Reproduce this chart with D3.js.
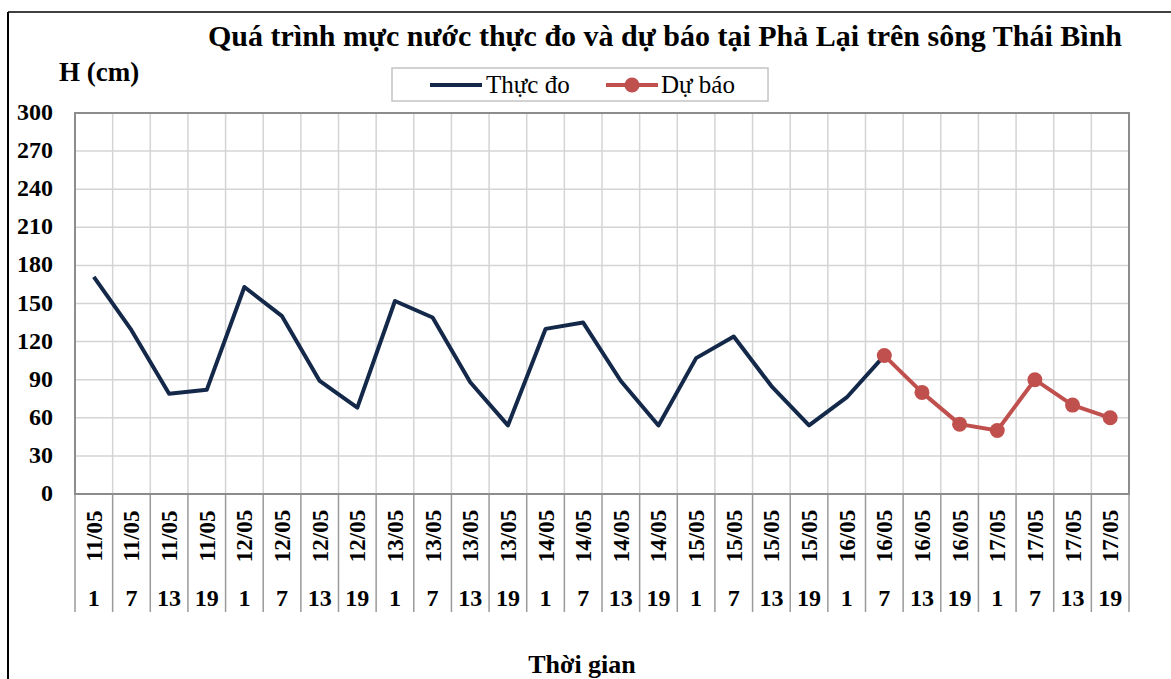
<!DOCTYPE html>
<html>
<head>
<meta charset="utf-8">
<script src="https://cdn.jsdelivr.net/npm/d3@7"></script>
<style>
  body { margin: 0; background: #fff; }
  svg { display: block; font-family: "Liberation Serif", "Times New Roman", serif; }
</style>
</head>
<body>
<svg id="chart" width="1171" height="679"></svg>
<script>
// categories: date + hour
const dates = ["11/05","11/05","11/05","11/05","12/05","12/05","12/05","12/05",
               "13/05","13/05","13/05","13/05","14/05","14/05","14/05","14/05",
               "15/05","15/05","15/05","15/05","16/05","16/05","16/05","16/05",
               "17/05","17/05","17/05","17/05"];
const hours = [1,7,13,19,1,7,13,19,1,7,13,19,1,7,13,19,1,7,13,19,1,7,13,19,1,7,13,19];

// measured (Thực đo) and forecast (Dự báo), null where missing
const observed = [171,129,79,82,163,140,89,68,152,139,88,54,130,135,89,54,107,124,85,54,76,109,
                  null,null,null,null,null,null];
const forecast = [null,null,null,null,null,null,null,null,null,null,null,null,null,null,null,
                  null,null,null,null,null,null,109,80,55,50,90,70,60];

const yTicks = [0,30,60,90,120,150,180,210,240,270,300];

const plot = { left: 75, right: 1129, top: 113, bottom: 494 };
const navy = "#14294a", red = "#c0504d";

const svg = d3.select("#chart");

// outer frame (left and top edges only visible)
svg.append("line").attr("x1", 8).attr("x2", 8).attr("y1", 12).attr("y2", 679)
    .attr("stroke", "#000").attr("stroke-width", 2);
svg.append("line").attr("x1", 8).attr("x2", 1171).attr("y1", 12).attr("y2", 12)
    .attr("stroke", "#000").attr("stroke-width", 1.5);

const idx = d3.range(dates.length);
const x = d3.scaleBand().domain(idx).range([plot.left, plot.right]).padding(0);
const y = d3.scaleLinear().domain([0, 300]).range([plot.bottom, plot.top]);

// horizontal gridlines
svg.append("g").selectAll("line").data(yTicks.filter(d => d > 0 && d < 300)).enter()
    .append("line")
    .attr("x1", plot.left).attr("x2", plot.right)
    .attr("y1", d => y(d)).attr("y2", d => y(d))
    .attr("stroke", "#d4d4d4").attr("stroke-width", 1.5);

// vertical gridlines at category boundaries
svg.append("g").selectAll("line").data(idx.slice(1)).enter()
    .append("line")
    .attr("x1", d => x(d)).attr("x2", d => x(d))
    .attr("y1", plot.top).attr("y2", plot.bottom)
    .attr("stroke", "#d4d4d4").attr("stroke-width", 1.5);

// category separators below axis
svg.append("g").selectAll("line").data(idx.concat([dates.length])).enter()
    .append("line")
    .attr("x1", d => d < dates.length ? x(d) : plot.right)
    .attr("x2", d => d < dates.length ? x(d) : plot.right)
    .attr("y1", plot.bottom).attr("y2", 612)
    .attr("stroke", "#9a9a9a").attr("stroke-width", 1.5);

// plot border
svg.append("rect")
    .attr("x", plot.left).attr("y", plot.top)
    .attr("width", plot.right - plot.left).attr("height", plot.bottom - plot.top)
    .attr("fill", "none").attr("stroke", "#8c8c8c").attr("stroke-width", 2);

// y tick labels
svg.append("g").selectAll("text").data(yTicks).enter()
    .append("text")
    .attr("x", 53).attr("y", d => y(d) + 7)
    .attr("text-anchor", "end")
    .attr("font-size", 24).attr("font-weight", "bold")
    .text(d => d);

// date labels (rotated)
svg.append("g").selectAll("text").data(idx).enter()
    .append("text")
    .attr("transform", d => `translate(${x(d) + x.bandwidth() / 2 + 8},536) rotate(-90)`)
    .attr("text-anchor", "middle")
    .attr("font-size", 23).attr("font-weight", "bold")
    .text(d => dates[d]);

// hour labels
svg.append("g").selectAll("text").data(idx).enter()
    .append("text")
    .attr("x", d => x(d) + x.bandwidth() / 2).attr("y", 606)
    .attr("text-anchor", "middle")
    .attr("font-size", 24).attr("font-weight", "bold")
    .text(d => hours[d]);

const cx = i => x(i) + x.bandwidth() / 2;

// observed line
const lineObs = d3.line().defined(i => observed[i] != null)
    .x(cx).y(i => y(observed[i]));
svg.append("path").attr("d", lineObs(idx))
    .attr("fill", "none").attr("stroke", navy).attr("stroke-width", 4)
    .attr("stroke-linejoin", "round");

// forecast line + markers
const lineFc = d3.line().defined(i => forecast[i] != null)
    .x(cx).y(i => y(forecast[i]));
svg.append("path").attr("d", lineFc(idx))
    .attr("fill", "none").attr("stroke", red).attr("stroke-width", 4)
    .attr("stroke-linejoin", "round");
svg.append("g").selectAll("circle").data(idx.filter(i => forecast[i] != null)).enter()
    .append("circle")
    .attr("cx", cx).attr("cy", i => y(forecast[i]))
    .attr("r", 7.5).attr("fill", red);

// title
svg.append("text")
    .attr("x", 665).attr("y", 46)
    .attr("text-anchor", "middle")
    .attr("font-size", 30).attr("font-weight", "bold")
    .text("Quá trình mực nước thực đo và dự báo tại Phả Lại trên sông Thái Bình");

// y axis title
svg.append("text")
    .attr("x", 59).attr("y", 81)
    .attr("font-size", 27).attr("font-weight", "bold")
    .text("H (cm)");

// x axis title
svg.append("text")
    .attr("x", 582).attr("y", 673)
    .attr("text-anchor", "middle")
    .attr("font-size", 26).attr("font-weight", "bold")
    .text("Thời gian");

// legend
const legend = svg.append("g");
legend.append("rect")
    .attr("x", 392).attr("y", 68).attr("width", 376).attr("height", 33)
    .attr("fill", "#fff").attr("stroke", "#c4c4c4").attr("stroke-width", 1.5);
legend.append("line").attr("x1", 430).attr("x2", 482).attr("y1", 85).attr("y2", 85)
    .attr("stroke", navy).attr("stroke-width", 4);
legend.append("text").attr("x", 486).attr("y", 93)
    .attr("font-size", 25).text("Thực đo");
legend.append("line").attr("x1", 606).attr("x2", 658).attr("y1", 85).attr("y2", 85)
    .attr("stroke", red).attr("stroke-width", 4);
legend.append("circle").attr("cx", 632).attr("cy", 85).attr("r", 7.5).attr("fill", red);
legend.append("text").attr("x", 661).attr("y", 93)
    .attr("font-size", 25).text("Dự báo");
</script>
</body>
</html>
